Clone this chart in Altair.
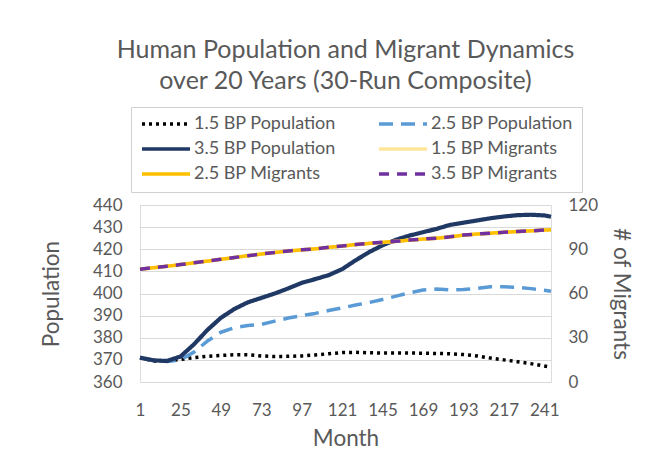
import altair as alt
import pandas as pd

months = [1, 9, 17, 25, 33, 41, 49, 57, 65, 73, 81, 89, 97, 105, 113, 121,
          129, 137, 145, 153, 161, 169, 177, 185, 193, 201, 209, 217, 225, 233, 241, 245]

pop_15 = [371.0, 369.5, 369.5, 370.2, 371.0, 371.6, 372.0, 372.3, 372.3, 371.8, 371.5, 371.6,
          371.8, 372.2, 372.8, 373.3, 373.4, 373.2, 373.1, 373.1, 373.1, 373.0, 372.9, 372.8,
          372.4, 371.8, 370.8, 370.0, 369.2, 368.3, 367.2, 366.7]
pop_25 = [371.0, 369.8, 369.3, 370.0, 373.5, 378.5, 382.5, 384.5, 385.5, 386.0, 387.5, 388.9,
          390.0, 391.0, 392.3, 393.5, 394.8, 395.9, 397.3, 398.8, 400.3, 401.6, 402.0, 401.6,
          401.8, 402.3, 403.0, 403.0, 402.8, 402.2, 401.5, 401.0]
pop_35 = [371.0, 369.8, 369.5, 371.5, 377.0, 383.5, 389.0, 393.0, 396.0, 398.0, 400.0, 402.3,
          404.8, 406.5, 408.3, 411.0, 415.0, 418.7, 421.8, 424.3, 426.2, 427.7, 429.2, 431.0,
          432.0, 433.0, 434.0, 434.8, 435.4, 435.6, 435.3, 434.7]
mig_15 = [76.4, 77.4, 78.4, 79.5, 80.7, 81.9, 83.1, 84.3, 85.5, 86.7, 87.7, 88.7,
          89.5, 90.2, 91.2, 92.1, 93.1, 93.9, 94.6, 95.3, 96.1, 96.8, 97.4, 98.3,
          99.5, 100.2, 100.8, 101.4, 101.9, 102.4, 102.9, 103.1]
mig_25 = [76.5, 77.5, 78.5, 79.6, 80.8, 82.0, 83.2, 84.4, 85.6, 86.8, 87.8, 88.8,
          89.6, 90.3, 91.3, 92.2, 93.2, 94.0, 94.7, 95.4, 96.2, 96.9, 97.5, 98.4,
          99.6, 100.3, 100.9, 101.5, 102.0, 102.5, 103.0, 103.2]
mig_35 = [76.5, 77.5, 78.5, 79.6, 80.8, 82.0, 83.2, 84.4, 85.6, 86.8, 87.8, 88.8,
          89.6, 90.3, 91.3, 92.2, 93.2, 94.0, 94.7, 95.4, 96.2, 96.9, 97.5, 98.4,
          99.6, 100.3, 100.9, 101.5, 102.0, 102.5, 103.0, 103.2]

series_names = ["1.5 BP Population", "2.5 BP Population", "3.5 BP Population",
                "1.5 BP Migrants", "2.5 BP Migrants", "3.5 BP Migrants"]
series_colors = ["#000000", "#5B9BD5", "#1F3864", "#FFE699", "#FFC000", "#7030A0"]
series_dashes = [[3, 4], [14, 8], [1, 0], [1, 0], [1, 0], [10, 8]]

x_ticks = [1, 25, 49, 73, 97, 121, 145, 169, 193, 217, 241]
pop_ticks = [360, 370, 380, 390, 400, 410, 420, 430, 440]
mig_ticks = [0, 30, 60, 90, 120]

FONT = "Lato"
GREY = "#595959"

legend = alt.Legend(
    title=None, orient="none", legendX=-9, legendY=-98, columns=2, direction="horizontal",
    columnPadding=41, rowPadding=7, clipHeight=16, symbolType="stroke",
    symbolSize=2304, symbolStrokeWidth=3.5, labelOffset=2,
    labelFont=FONT, labelFontSize=18, labelColor=GREY,
    strokeColor="#D0D0D0", padding=9,
)
color_enc = alt.Color("series:N", scale=alt.Scale(domain=series_names, range=series_colors), legend=legend)
dash_enc = alt.StrokeDash("series:N", scale=alt.Scale(domain=series_names, range=series_dashes), legend=legend)

x_enc = alt.X(
    "month:Q",
    scale=alt.Scale(domain=[1, 245], nice=False, zero=False),
    axis=alt.Axis(values=x_ticks, title="Month", grid=False, domain=False, ticks=False,
                  labelPadding=20, titlePadding=9, labelFontSize=17, titleFontSize=22.5,
                  labelFont=FONT, titleFont=FONT, labelColor=GREY, titleColor=GREY,
                  titleFontWeight="normal", labelFlush=False),
)
y_pop = alt.Y(
    "value:Q",
    scale=alt.Scale(domain=[360, 440], nice=False, zero=False),
    axis=alt.Axis(values=pop_ticks, title="Population", grid=True, gridColor="#D9D9D9",
                  gridWidth=1, domain=False, ticks=False, labelPadding=18, titlePadding=29,
                  labelFontSize=17, titleFontSize=22.5, labelFont=FONT, titleFont=FONT,
                  labelColor=GREY, titleColor=GREY, titleFontWeight="normal"),
)
y_mig = alt.Y(
    "value:Q",
    scale=alt.Scale(domain=[0, 120], nice=False, zero=False),
    axis=alt.Axis(values=mig_ticks, title="# of Migrants", orient="right", grid=False,
                  domain=False, ticks=False, labelPadding=17, titlePadding=11,
                  labelFontSize=17, titleFontSize=22.5, labelFont=FONT, titleFont=FONT,
                  labelColor=GREY, titleColor=GREY, titleFontWeight="normal"),
)


def line(name, values, y_enc, width=3.5):
    df = pd.DataFrame({"month": months, "value": values, "series": name})
    return alt.Chart(df).mark_line(strokeWidth=width, strokeCap="butt", strokeJoin="round").encode(
        x=x_enc, y=y_enc, color=color_enc, strokeDash=dash_enc
    )


pop_layer = alt.layer(
    line("1.5 BP Population", pop_15, y_pop),
    line("2.5 BP Population", pop_25, y_pop),
    line("3.5 BP Population", pop_35, y_pop, 4.2),
)
mig_layer = alt.layer(
    line("1.5 BP Migrants", mig_15, y_mig),
    line("2.5 BP Migrants", mig_25, y_mig),
    line("3.5 BP Migrants", mig_35, y_mig),
)

chart = alt.layer(pop_layer, mig_layer).resolve_scale(y="independent").properties(
    width=411, height=177,
    autosize=alt.AutoSizeParams(type="none"),
    padding={"left": 132, "top": 197, "right": 106, "bottom": 70},
    title=alt.Title(
        ["Human Population and Migrant Dynamics", "over 20 Years (30-Run Composite)"],
        font=FONT, fontSize=25, fontWeight="normal", color=GREY, anchor="middle",
        lineHeight=31, offset=13,
    ),
).configure_view(stroke=None).configure_legend(
    strokeColor="#D0D0D0", strokeDash=[1, 2], padding=9
).configure(background="white")

chart.save("out.html", embed_options={"renderer": "svg", "actions": False})
